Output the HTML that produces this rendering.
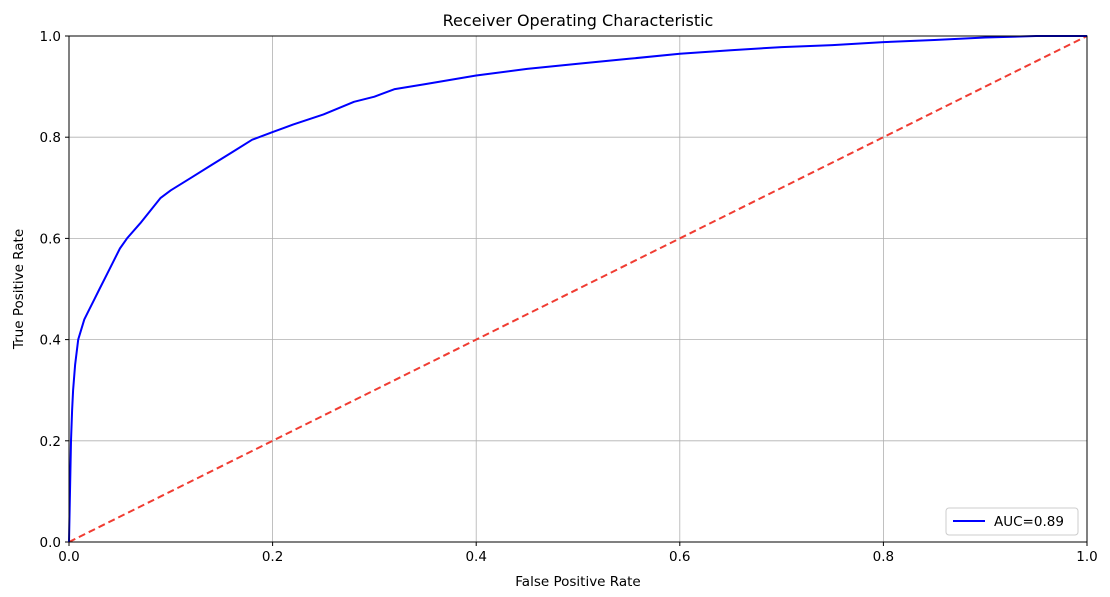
<!DOCTYPE html>
<html><head><meta charset="utf-8"><style>
body{margin:0;background:#fff;font-family:"Liberation Sans","DejaVu Sans",sans-serif;}
svg text{font-family:"DejaVu Sans","Liberation Sans",sans-serif;}
</style></head><body>
<svg id="chart" width="1110" height="592" xmlns="http://www.w3.org/2000/svg">
<rect width="1110" height="592" fill="#fff"/>
<g id="grid"></g>
<g id="ticks"></g>
<g id="series"></g>
<rect x="69" y="36" width="1018" height="506" fill="none" stroke="#000" stroke-width="1"/>
<text x="578" y="26" text-anchor="middle" font-size="16">Receiver Operating Characteristic</text>
<text x="578" y="586" text-anchor="middle" font-size="13.5">False Positive Rate</text>
<text x="23" y="289" text-anchor="middle" font-size="13.5" transform="rotate(-90 23 289)">True Positive Rate</text>
<g>
<rect x="946" y="508" width="132" height="27" rx="3" fill="#fff" stroke="#ccc"/>
<line x1="953" y1="521" x2="985" y2="521" stroke="#0000ff" stroke-width="2"/>
<text x="994" y="526" font-size="13.5">AUC=0.89</text>
</g>
</svg>
<script>
const fpr=[0,0.001,0.002,0.003,0.004,0.006,0.009,0.015,0.02,0.025,0.03,0.035,0.04,0.05,0.057,0.07,0.08,0.09,0.1,0.12,0.14,0.16,0.18,0.2,0.22,0.25,0.28,0.3,0.32,0.35,0.4,0.45,0.5,0.55,0.6,0.65,0.7,0.75,0.8,0.85,0.9,0.95,1];
const tpr=[0,0.1,0.2,0.26,0.3,0.35,0.4,0.44,0.46,0.48,0.5,0.52,0.54,0.58,0.6,0.63,0.655,0.68,0.695,0.72,0.745,0.77,0.795,0.81,0.825,0.845,0.87,0.88,0.895,0.905,0.922,0.935,0.945,0.955,0.965,0.972,0.978,0.982,0.988,0.992,0.997,1.0,1.0];
const xTicks=[0,0.2,0.4,0.6,0.8,1.0];
const yTicks=[0,0.2,0.4,0.6,0.8,1.0];
const X0=69,X1=1087,Y0=542,Y1=36;
const sx=v=>X0+v*(X1-X0), sy=v=>Y0-v*(Y0-Y1);
const NS="http://www.w3.org/2000/svg";
const grid=document.getElementById('grid'),ticks=document.getElementById('ticks'),series=document.getElementById('series');
function mk(tag,attrs,parent){const e=document.createElementNS(NS,tag);for(const k in attrs)e.setAttribute(k,attrs[k]);parent.appendChild(e);return e;}
xTicks.forEach(t=>{
 const g=mk('line',{x1:sx(t),x2:sx(t),y1:Y1,y2:Y0,stroke:'#b0b0b0','stroke-width':0.8},grid);
 
 
 const tk=mk('line',{x1:sx(t),x2:sx(t),y1:Y0,y2:Y0+4,stroke:'#000'},ticks);
 
 
 const tx=mk('text',{x:sx(t),y:Y0+19,'text-anchor':'middle','font-size':13.5},ticks);
 tx.textContent=t.toFixed(1);
 
 
});
yTicks.forEach(t=>{
 const g=mk('line',{x1:X0,x2:X1,y1:sy(t),y2:sy(t),stroke:'#b0b0b0','stroke-width':0.8},grid);
 
 
 const tk=mk('line',{x1:X0-4,x2:X0,y1:sy(t),y2:sy(t),stroke:'#000'},ticks);
 
 
 const tx=mk('text',{x:X0-8,y:sy(t)+5,'text-anchor':'end','font-size':13.5},ticks);
 tx.textContent=t.toFixed(1);
 
 
});
const diag=mk('line',{x1:sx(0),y1:sy(0),x2:sx(1),y2:sy(1),stroke:'#f03c32','stroke-width':2,'stroke-dasharray':'7,4'},series);


const d=fpr.map((v,i)=>(i?'L':'M')+sx(v).toFixed(1)+','+sy(tpr[i]).toFixed(1)).join('');
const roc=mk('path',{d:d,fill:'none',stroke:'#0000ff','stroke-width':2,'stroke-linejoin':'round'},series);


</script>
</body></html>
